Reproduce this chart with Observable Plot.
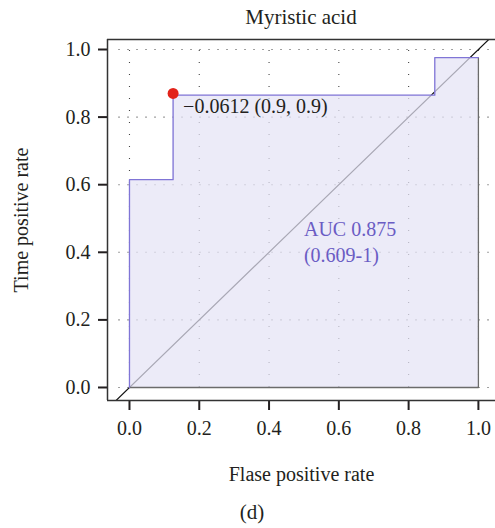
<!DOCTYPE html>
<html>
<head>
<meta charset="utf-8">
<script src="https://cdn.jsdelivr.net/npm/d3@7"></script>
<script src="https://cdn.jsdelivr.net/npm/@observablehq/plot@0.6"></script>
<style>
  html, body { margin: 0; padding: 0; background: #fff; overflow: hidden; }
  #wrap { position: relative; width: 495px; height: 528px; font-family: "Liberation Serif", serif; color: #231f20; }
  #chart { position: absolute; left: 0; top: 0; }
  #title { position: absolute; left: 107px; right: 0; top: 7px; text-align: center; font-size: 21px; line-height: 21px; }
  #caption { position: absolute; left: 232px; width: 40px; top: 502px; text-align: center; font-size: 21px; line-height: 21px; }
</style>
</head>
<body>
<div id="wrap">
  <div id="chart"></div>
  <div id="title">Myristic acid</div>
  <div id="caption">(d)</div>
</div>
<script>
// ROC curve (false positive rate, true positive rate)
const fpr = [0, 0, 0.125, 0.125, 0.875, 0.875, 1];
const tpr = [0, 0.615, 0.615, 0.865, 0.865, 0.976, 0.976];

// Best cut-off point
const cutX = [0.125];
const cutY = [0.87];
const cutLabel = ["\u22120.0612 (0.9, 0.9)"];

// AUC annotation
const aucX = [0.5];
const aucY = [0.435];
const aucLabel = ["AUC 0.875\n(0.609-1)"];

// Axes
const xTicks = [0, 0.2, 0.4, 0.6, 0.8, 1.0];
const yTicks = [0, 0.2, 0.4, 0.6, 0.8, 1.0];
const xDomain = [-0.063, 1.049];
const yDomain = [-0.0385, 1.0296];
const diag = [-1, 2];

const roc = fpr.map((x, i) => ({x, y: tpr[i]}));
const first = roc[0], last = roc[roc.length - 1];
const closing = [last, {x: last.x, y: first.y}, first];
const fmt = d3.format(".1f");

const chart = Plot.plot({
  width: 495,
  height: 528,
  marginLeft: 107,
  marginRight: 0,
  marginTop: 39,
  marginBottom: 128,
  x: {domain: xDomain},
  y: {domain: yDomain},
  style: {fontFamily: "Liberation Serif, serif", fontSize: "20px", color: "#231f20", background: "transparent", overflow: "visible"},
  marks: [
    Plot.ruleX(xTicks, {y1: 0, y2: 1, stroke: "#444", strokeWidth: 1.1, strokeDasharray: "1,11"}),
    Plot.ruleY(yTicks, {x1: -0.03, x2: xDomain[1], stroke: "#444", strokeWidth: 1.1, strokeDasharray: "1,8"}),
    Plot.line(diag, {x: d => d, y: d => d, stroke: "#111", strokeWidth: 1.2, clip: true}),
    Plot.area(roc, {x1: "x", y1: "y", y2: first.y, fill: "rgb(229,227,245)", fillOpacity: 0.72}),
    Plot.line(closing, {x: "x", y: "y", stroke: "#6b6b6b", strokeWidth: 1.3}),
    Plot.line(roc, {x: "x", y: "y", stroke: "#8075d6", strokeWidth: 1.3}),
    Plot.dot(cutX.map((x, i) => ({x, y: cutY[i]})), {x: "x", y: "y", r: 5.5, fill: "#e2231a", stroke: "none"}),
    Plot.text(cutX.map((x, i) => ({x, y: cutY[i], label: cutLabel[i]})), {x: "x", y: "y", text: "label", textAnchor: "start", dx: 10, dy: 13, fontSize: 20, fill: "#231f20"}),
    Plot.text(aucX.map((x, i) => ({x, y: aucY[i], label: aucLabel[i]})), {x: "x", y: "y", text: "label", textAnchor: "start", lineAnchor: "middle", lineHeight: 1.3, fontSize: 20, fill: "#6a5cc4"}),
    Plot.axisX(xTicks, {anchor: "bottom", tickSize: 10, tickPadding: 10, strokeWidth: 2, stroke: "#231f20", tickFormat: fmt, fontSize: 20, fill: "#231f20",
      label: "Flase positive rate", labelAnchor: "center", labelOffset: 80, labelArrow: "none"}),
    Plot.axisY(yTicks, {anchor: "left", tickSize: 9, tickPadding: 8, strokeWidth: 2, stroke: "#231f20", tickFormat: fmt, fontSize: 20, fill: "#231f20",
      label: "Time positive rate", labelAnchor: "center", labelOffset: 94, labelArrow: "none"}),
    Plot.ruleX([xDomain[0]], {stroke: "#333", strokeWidth: 1.5}),
    Plot.ruleY([yDomain[0]], {stroke: "#333", strokeWidth: 1.5}),
    Plot.ruleY([yDomain[1]], {stroke: "#333", strokeWidth: 1.5})
  ]
});
document.getElementById("chart").appendChild(chart);
</script>
</body>
</html>
